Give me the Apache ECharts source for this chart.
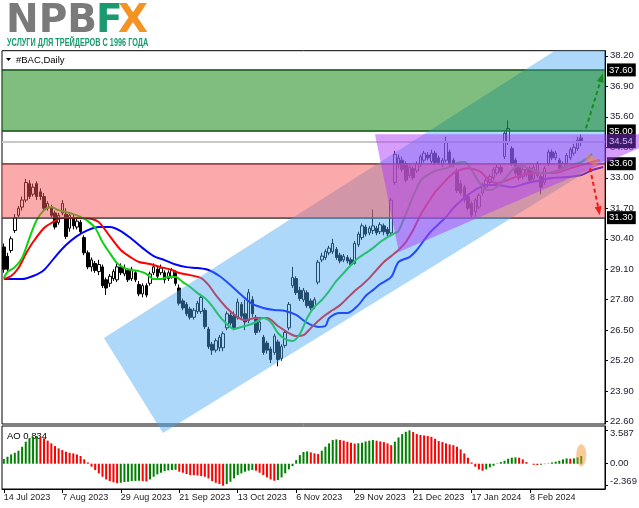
<!DOCTYPE html>
<html><head><meta charset="utf-8">
<script src="https://cdn.jsdelivr.net/npm/echarts@6/dist/echarts.min.js"></script>
<style>html,body{margin:0;padding:0;background:#fff}#c{width:639px;height:508px}</style>
</head><body><div id="c"></div>
<script>
const FONT = 'Liberation Sans';
const tradingDays = [
 ['2023-07', [14,17,18,19,20,21,24,25,26,27,28,31]],
 ['2023-08', [1,2,3,4,7,8,9,10,11,14,15,16,17,18,21,22,23,24,25,28,29,30,31]],
 ['2023-09', [1,5,6,7,8,11,12,13,14,15,18,19,20,21,22,25,26,27,28,29]],
 ['2023-10', [2,3,4,5,6,9,10,11,12,13,16,17,18,19,20,23,24,25,26,27,30,31]],
 ['2023-11', [1,2,3,6,7,8,9,10,13,14,15,16,17,20,21,22,24,27,28,29,30]],
 ['2023-12', [1,4,5,6,7,8,11,12,13,14,15,18,19,20,21,22,26,27,28,29]],
 ['2024-01', [2,3,4,5,8,9,10,11,12,16,17,18,19,22,23,24,25,26,29,30,31]],
 ['2024-02', [1,2,5,6,7,8,9,12,13,14,15,16,20,21,22,23,26,27,28,29]],
 ['2024-03', [1,4,5,6,7,8]]
];
const monthNames = ['Jan','Feb','Mar','Apr','May','Jun','Jul','Aug','Sep','Oct','Nov','Dec'];
const labelEvery = 16, lastLabelIndex = 144;

// [open, close, low, high]
const candles = [
[30.05,29.10,28.95,30.20],[29.65,29.10,28.95,29.80],[29.90,30.40,29.80,30.50],[30.75,31.30,30.65,31.45],[31.40,31.70,31.30,31.80],
[31.75,32.05,31.60,32.20],[32.05,32.80,31.95,32.95],[32.75,32.20,32.10,32.90],[32.30,32.60,32.20,32.75],[32.75,32.20,32.05,32.85],
[32.40,32.20,32.05,32.55],[32.20,31.70,31.60,32.35],[31.70,31.90,31.60,32.00],[31.75,31.40,31.30,31.85],[31.50,30.90,30.80,31.60],
[31.10,31.40,31.00,31.50],[31.50,31.90,31.40,32.05],[31.45,30.50,30.40,31.70],[30.85,31.40,30.70,31.50],[31.30,30.95,30.80,31.45],
[30.90,31.15,30.80,31.30],[31.10,30.70,30.60,31.20],[30.45,29.80,29.70,30.55],[29.80,29.20,29.10,29.90],[29.20,29.50,29.00,29.60],
[29.35,29.05,28.95,29.45],[29.00,29.30,28.85,29.50],[29.20,28.40,28.30,29.30],[28.65,28.30,28.00,28.75],[28.50,28.80,28.35,28.90],
[28.70,29.00,28.60,29.10],[28.65,29.20,28.55,29.35],[29.20,28.95,28.85,29.35],[28.90,29.15,28.80,29.30],[29.05,28.65,28.55,29.15],
[28.70,29.10,28.60,29.20],[28.95,28.65,28.55,29.05],[28.45,28.05,27.95,28.60],[28.05,28.40,27.90,28.50],[28.40,28.00,27.90,28.50],
[28.50,28.90,28.40,29.00],[28.95,29.20,28.85,29.35],[29.10,28.80,28.70,29.20],[28.95,29.15,28.85,29.30],[28.95,28.65,28.50,29.05],
[28.70,28.95,28.60,29.05],[28.80,29.05,28.70,29.15],[28.95,28.50,28.40,29.05],[28.30,27.65,27.55,28.45],[27.75,27.45,27.35,27.85],
[27.60,27.20,27.10,27.70],[27.40,27.05,26.95,27.50],[27.05,27.35,26.95,27.45],[27.30,27.65,27.20,27.75],[27.30,27.90,27.20,28.05],
[27.35,26.65,26.55,27.45],[26.55,25.80,25.70,26.65],[25.90,25.65,25.45,26.00],[25.65,26.05,25.55,26.15],[25.75,26.20,25.60,26.30],
[25.75,26.35,25.60,26.45],[26.60,27.20,26.50,27.30],[27.15,26.80,26.70,27.30],[27.10,26.60,26.50,27.30],[27.05,27.70,26.95,27.85],
[27.60,27.10,27.00,27.70],[27.20,26.85,26.50,27.80],[26.90,28.10,26.80,28.25],[27.80,27.20,27.05,27.95],[27.05,26.40,26.30,27.15],
[26.50,26.85,26.40,26.95],[26.20,25.55,25.45,26.30],[25.95,25.65,25.50,26.05],[25.70,25.25,25.10,25.80],[25.55,26.25,25.45,26.35],
[26.00,25.25,24.96,26.10],[25.30,25.80,25.20,25.90],[25.85,26.40,25.75,26.50],[26.60,27.60,26.50,27.70],[28.40,28.75,28.30,29.20],
[28.70,28.10,28.00,28.80],[28.20,27.85,27.75,28.35],[27.80,28.20,27.70,28.30],[28.10,27.55,27.45,28.20],[27.75,27.45,27.35,27.85],
[27.50,27.80,27.40,27.90],[28.55,29.40,28.45,29.50],[29.50,29.66,29.40,29.80],[29.60,29.85,29.50,29.95],[29.80,30.00,29.70,30.10],
[29.85,30.20,29.75,30.40],[29.95,29.60,29.50,30.05],[29.70,29.45,29.35,29.80],[29.50,29.65,29.40,29.75],[29.60,29.45,29.35,29.70],
[29.50,29.30,29.20,29.60],[29.35,30.20,29.30,30.30],[30.15,30.60,30.05,30.70],[30.45,30.95,30.35,31.05],[30.90,30.60,30.50,31.00],
[30.65,30.85,30.55,30.95],[30.75,30.95,30.60,31.65],[30.85,30.65,30.55,30.95],[30.70,31.00,30.60,31.10],[30.95,30.70,30.55,31.05],
[30.80,30.60,30.45,30.90],[30.65,32.05,30.55,32.15],[32.80,34.00,32.70,34.15],[33.55,33.85,33.40,34.00],[33.75,33.35,33.25,33.90],
[33.60,32.90,32.80,33.70],[33.10,33.45,33.00,33.55],[33.40,33.00,32.90,33.50],[33.30,33.60,33.20,33.70],[33.55,33.90,33.45,34.00],
[33.75,34.05,33.65,34.15],[33.97,33.85,33.75,34.10],[33.70,34.05,33.60,34.20],[34.05,33.65,33.55,34.15],[33.85,33.65,33.55,33.95],
[33.55,33.75,33.45,33.85],[33.75,34.50,33.65,34.75],[34.10,33.60,33.50,34.20],[33.75,33.55,33.45,33.85],[33.30,32.45,32.35,33.40],
[32.75,32.35,32.25,32.90],[32.60,32.05,31.95,32.70],[32.20,31.70,31.60,32.30],[31.90,31.40,31.30,32.00],[31.55,32.05,31.35,32.15],
[31.75,32.25,31.65,32.35],[32.35,32.70,32.25,32.80],[32.60,32.90,32.50,33.00],[32.80,33.05,32.70,33.15],[33.00,33.35,32.90,33.45],
[33.20,33.45,33.10,33.55],[33.45,33.25,33.15,33.55],[33.90,34.90,33.80,35.00],[34.50,35.10,34.40,35.45],[34.25,33.60,33.50,34.35],
[33.75,33.20,33.10,33.85],[33.45,33.00,32.90,33.55],[33.05,33.35,32.95,33.45],[33.15,33.35,33.05,33.45],[33.40,32.90,32.80,33.50],
[32.95,33.45,32.85,33.55],[33.10,33.60,33.00,33.70],[33.05,32.60,32.30,33.15],[32.80,33.40,32.70,33.50],[33.60,34.10,33.50,34.20],
[34.10,33.85,33.75,34.20],[33.85,34.05,33.75,34.15],[33.75,33.40,33.30,33.85],[33.45,33.60,33.35,33.70],[33.60,33.95,33.50,34.05],
[33.85,34.20,33.75,34.30],[34.05,34.30,33.95,34.45],[34.25,34.60,34.15,34.75],[34.70,34.54,34.35,34.85]
];

// Alligator lines: [bar index, price]
const jawLine = [[0,28.68],[5,28.68],[8,28.81],[11,29.07],[14,29.62],[17,30.13],[20,30.51],[23,30.77],[26,30.90],[29,30.90],[32,30.73],[35,30.39],[38,30.00],[41,29.66],[44,29.49],[47,29.30],[50,29.19],[53,29.15],[56,29.07],[59,28.81],[62,28.43],[65,28.00],[68,27.62],[71,27.45],[74,27.36],[77,27.32],[80,27.15],[83,26.81],[86,26.64],[88,26.68],[89,27.02],[92,27.23],[94,27.23],[97,27.57],[99,27.96],[101,28.21],[103,28.47],[106,28.77],[108,29.41],[111,29.62],[113,29.92],[115,30.34],[117,30.73],[119,31.03],[121,31.33],[123,31.71],[125,32.01],[127,32.26],[129,32.48],[132,32.69],[135,32.69],[139,32.60],[143,32.77],[147,32.90],[150,32.99],[154,33.03],[158,33.12],[161,33.33],[164,33.46]];
const teethLine = [[0,28.68],[2,28.81],[4,29.15],[6,29.75],[8,30.26],[11,30.86],[13,31.07],[16,31.28],[20,31.28],[24,31.24],[26,31.11],[29,30.51],[32,29.92],[35,29.58],[37,29.41],[40,29.32],[43,29.19],[46,29.07],[48,28.94],[51,28.85],[54,28.72],[56,28.43],[58,28.00],[61,27.45],[64,27.06],[66,26.93],[69,27.02],[72,27.02],[75,26.68],[78,26.38],[80,26.25],[82,26.29],[84,26.59],[86,26.89],[88,27.15],[90,27.36],[92,27.57],[94,27.87],[96,28.17],[98,28.43],[100,28.72],[102,29.07],[104,29.41],[106,29.66],[108,29.92],[110,30.26],[112,30.77],[114,31.41],[116,31.92],[118,32.39],[120,32.73],[122,33.07],[124,33.29],[127,33.41],[130,33.29],[133,32.90],[135,32.77],[137,32.86],[140,33.03],[143,33.16],[146,33.20],[149,33.20],[152,33.24],[155,33.41],[158,33.54],[161,33.67],[163,33.75]];
const lipsLine = [[0,28.72],[1,28.98],[3,29.19],[5,29.58],[7,30.43],[9,31.20],[11,31.62],[13,31.75],[15,31.62],[17,31.54],[19,31.45],[21,31.33],[23,31.15],[25,30.86],[27,30.26],[29,29.79],[31,29.36],[33,29.15],[35,29.07],[37,29.02],[39,28.90],[41,28.68],[43,28.68],[45,28.77],[47,28.77],[49,28.55],[51,28.34],[53,28.08],[55,27.87],[57,27.53],[59,27.10],[61,26.76],[63,26.55],[65,26.64],[67,26.72],[69,26.85],[71,27.02],[73,26.85],[75,26.38],[77,26.12],[79,26.04],[81,26.34],[83,27.02],[85,27.49],[87,27.79],[89,28.17],[91,28.60],[93,28.94],[95,29.28],[97,29.58],[99,29.79],[101,30.00],[103,30.26],[105,30.47],[107,30.64],[108,30.73],[110,31.45],[112,32.22],[114,32.86],[116,33.12],[118,33.29],[120,33.37],[122,33.46],[124,33.63],[126,33.67],[128,33.33],[130,32.82],[132,32.48],[134,32.52],[136,32.77],[138,33.12],[140,33.46],[142,33.50],[144,33.37],[146,33.24],[148,33.20],[150,33.24],[152,33.33],[154,33.46],[156,33.58],[158,33.67],[160,33.88],[161,34.01]];

const aoValues = [
0.50,0.75,1.00,1.18,1.40,1.83,2.37,2.73,2.90,2.98,
2.90,2.73,2.48,2.19,1.90,1.65,1.47,1.29,1.18,1.11,
1.00,0.83,0.47,0.14,-0.32,-0.68,-1.04,-1.40,-1.69,-1.87,
-2.00,-2.10,-2.05,-1.97,-1.94,-1.87,-1.85,-1.83,-1.87,-1.90,
-1.69,-1.40,-1.15,-0.97,-0.80,-0.72,-0.68,-0.66,-0.86,-0.97,
-1.11,-1.22,-1.24,-1.27,-1.33,-1.40,-1.58,-1.87,-2.05,-2.19,
-2.369,-2.19,-1.94,-1.58,-1.22,-1.04,-0.86,-0.75,-0.68,-0.75,
-0.97,-1.22,-1.47,-1.69,-1.83,-1.76,-1.47,-1.04,-0.61,-0.25,
0.39,0.93,1.26,1.33,1.22,1.11,1.04,1.40,1.83,2.19,
2.55,2.62,2.55,2.48,2.37,2.26,2.17,2.20,2.26,2.40,
2.48,2.55,2.48,2.40,2.33,2.19,2.00,2.37,2.83,3.19,
3.44,3.587,3.41,3.19,3.09,3.05,2.98,2.90,2.69,2.44,
2.33,2.19,2.08,2.00,1.83,1.54,1.11,0.65,0.14,-0.32,
-0.61,-0.75,-0.61,-0.39,-0.22,0.04,0.18,0.32,0.54,0.65,
0.68,0.65,0.47,0.18,0.00,-0.12,-0.15,-0.11,-0.04,0.04,
0.14,0.22,0.32,0.47,0.57,0.54,0.57,0.68,0.834
];

const priceTicks = [22.6,23.9,25.2,26.5,27.8,29.1,30.4,31.7,33.0,34.3,35.6,36.9,38.2];
const aoTicks = [3.587, 0, -2.369];
const aoTickText = ['3.587','0.00','-2.369'];
const levels = [37.6, 35.0, 33.6, 31.3];
const bidPrice = 34.54;
const greenZone = [35.0, 37.6];
const redZone = [31.3, 33.6];
// drawn objects in [bar index, price]
const channel = [[27.4,26.17],[150.8,38.42],[164.5,38.42],[164.5,33.75],[43.55,22.12]];
const triangle = [[101.55,34.86],[174,34.86],[174,34.27],[108.1,29.83]];
const upArrow = [[159.3,35.11],[163.9,37.45]];
const downArrow = [[160.4,33.41],[163.1,31.40]];
const marker = [[159.7,34.06],[163.0,33.75],[161.8,33.49],[159.2,33.75]];
const aoMarker = [158, 0.9];

const categories = [];
tradingDays.forEach(([ym, days]) => { const [y, m] = ym.split('-'); days.forEach(d => categories.push(d + ' ' + monthNames[+m - 1] + ' ' + y)); });

const aoData = aoValues.map((v, i) => ({ value: v, itemStyle: { color: (i === 0 || v > aoValues[i - 1]) ? '#008000' : '#ff0000' } }));
const XMIN = -0.5, XMAX = categories.length - 0.5;

function overlay(name, pts, fill, z) {
  return { type: 'custom', name, xAxisIndex: 1, yAxisIndex: 0, z, silent: true, clip: false, data: [[0, 30]],
    renderItem: (p, api) => ({ type: 'polygon', shape: { points: pts.map(q => api.coord(q)) }, style: { fill } }) };
}
function band(name, lo, hi, fill, z) {
  return overlay(name, [[XMIN, lo], [XMAX, lo], [XMAX, hi], [XMIN, hi]], fill, z);
}
function arrow(name, seg, color) {
  return { type: 'custom', name, xAxisIndex: 1, yAxisIndex: 0, z: 8, silent: true, clip: false, data: [[0, 30]],
    renderItem: (p, api) => {
      const a = api.coord(seg[0]), b = api.coord(seg[1]);
      const ang = Math.atan2(b[1] - a[1], b[0] - a[0]), L = 9, W = 3.5;
      const bx = b[0] - L * Math.cos(ang), by = b[1] - L * Math.sin(ang);
      return { type: 'group', children: [
        { type: 'line', shape: { x1: a[0], y1: a[1], x2: bx, y2: by }, style: { stroke: color, lineWidth: 2, lineDash: [4, 3] } },
        { type: 'polygon', shape: { points: [b, [bx + W * Math.sin(ang), by - W * Math.cos(ang)], [bx - W * Math.sin(ang), by + W * Math.cos(ang)]] }, style: { fill: color } }
      ] };
    } };
}

const lvlLabel = { position: 'end', distance: 2, color: '#fff', backgroundColor: '#000', padding: [2, 3, 1, 2], fontSize: 9.5, fontFamily: FONT, formatter: p => p.value.toFixed(2) };

const chart = echarts.init(document.getElementById('c'), null, { renderer: 'canvas' });
chart.setOption({
  backgroundColor: '#ffffff',
  animation: false,
  grid: [
    { left: 2, right: 34, top: 50.7, height: 373.3, show: true, borderColor: '#000', borderWidth: 1, outerBoundsMode: 'none' },
    { left: 2, right: 34, top: 426, height: 63, show: true, borderColor: '#000', borderWidth: 1, outerBoundsMode: 'none' }
  ],
  xAxis: [
    { type: 'category', gridIndex: 0, data: categories, show: false },
    { type: 'value', gridIndex: 0, min: XMIN, max: XMAX, show: false },
    { type: 'category', gridIndex: 1, data: categories, position: 'bottom',
      axisLine: { show: true, onZero: false, lineStyle: { color: '#000' } },
      axisTick: { show: true, alignWithLabel: true, length: 4, lineStyle: { color: '#000' }, interval: i => i % labelEvery === 0 && i <= lastLabelIndex },
      axisLabel: { interval: i => i % labelEvery === 0 && i <= lastLabelIndex, align: 'left', margin: 4, color: '#222', fontSize: 9, fontFamily: FONT },
      splitLine: { show: false } }
  ],
  yAxis: [
    { type: 'value', gridIndex: 0, position: 'right', min: 22.50, max: 38.42, scale: true,
      axisLine: { show: true, onZero: false, lineStyle: { color: '#000' } },
      axisTick: { show: true, length: 3, customValues: priceTicks, lineStyle: { color: '#000' } },
      axisLabel: { customValues: priceTicks, formatter: v => v.toFixed(2), color: '#1a1a2a', fontSize: 9.5, fontFamily: FONT, margin: 5 },
      splitLine: { show: false } },
    { type: 'value', gridIndex: 1, position: 'right', min: -2.72, max: 4.06,
      axisLine: { show: true, onZero: false, lineStyle: { color: '#000' } },
      axisTick: { show: true, length: 3, customValues: aoTicks, lineStyle: { color: '#000' } },
      axisLabel: { customValues: aoTicks, color: '#1a1a2a', fontSize: 9.5, fontFamily: FONT, margin: 5,
        formatter: (v) => { const i = aoTicks.indexOf(v); const t = aoTickText[i]; return i === 0 ? '{t|' + t + '}' : (i === 2 ? '{b|' + t + '}' : t); },
        rich: { t: { padding: [6, 0, 0, 0], fontSize: 9.5, fontFamily: FONT, color: '#1a1a2a' }, b: { padding: [0, 0, 8, 0], fontSize: 9.5, fontFamily: FONT, color: '#1a1a2a' } } },
      splitLine: { show: false } }
  ],
  series: [
    { type: 'candlestick', name: 'BAC', xAxisIndex: 0, yAxisIndex: 0, data: candles, barWidth: 3, z: 2,
      itemStyle: { color: '#ffffff', color0: '#000000', borderColor: '#000000', borderColor0: '#000000', borderWidth: 1 },
      markLine: { silent: true, symbol: 'none', animation: false,
        data: levels.map(v => ({ yAxis: v, lineStyle: { color: '#2a2a2a', width: 1.5, type: 'solid' }, label: lvlLabel }))
          .concat([{ yAxis: bidPrice, lineStyle: { color: '#c8c8c8', width: 2, type: 'solid' }, label: { show: false } }]) } },
    { type: 'line', name: 'Jaw', xAxisIndex: 1, yAxisIndex: 0, data: jawLine, showSymbol: false, smooth: 0.3, z: 3, lineStyle: { color: '#0000ff', width: 2 } },
    { type: 'line', name: 'Teeth', xAxisIndex: 1, yAxisIndex: 0, data: teethLine, showSymbol: false, smooth: 0.3, z: 3, lineStyle: { color: '#ff0000', width: 2 } },
    { type: 'line', name: 'Lips', xAxisIndex: 1, yAxisIndex: 0, data: lipsLine, showSymbol: false, smooth: 0.3, z: 3, lineStyle: { color: '#10d010', width: 2 } },
    overlay('Channel', channel, 'rgba(73,168,244,0.45)', 5),
    band('Target zone', greenZone[0], greenZone[1], 'rgba(1,125,1,0.5)', 6),
    band('Stop zone', redZone[0], redZone[1], 'rgba(245,85,85,0.5)', 6),
    overlay('Triangle', triangle, 'rgba(175,60,245,0.5)', 7),
    overlay('Marker', marker, 'rgba(245,140,60,0.5)', 7),
    arrow('Up', upArrow, '#1e8a1e'),
    arrow('Down', downArrow, '#ee1c1c'),
    { type: 'custom', name: 'Bid label', xAxisIndex: 1, yAxisIndex: 0, z: 9, silent: true, clip: false, data: [[XMAX, bidPrice]],
      renderItem: (p, api) => { const c = api.coord([api.value(0), api.value(1)]);
        return { type: 'text', x: c[0] + 2, y: c[1], style: { text: bidPrice.toFixed(2), fill: '#d2b8f8', backgroundColor: '#3e1a6a', padding: [2, 3, 1, 2], fontSize: 9.5, fontFamily: FONT, verticalAlign: 'middle', align: 'left' } }; } },
    { type: 'bar', name: 'AO', xAxisIndex: 2, yAxisIndex: 1, data: aoData, barWidth: 2, z: 2 },
    { type: 'custom', name: 'AO marker', xAxisIndex: 2, yAxisIndex: 1, z: 5, silent: true, clip: false, data: [aoMarker],
      renderItem: (p, api) => { const c = api.coord([api.value(0), api.value(1)]); return { type: 'ellipse', shape: { cx: c[0], cy: c[1], rx: 5, ry: 11 }, style: { fill: 'rgba(245,150,50,0.5)' } }; } }
  ],
  graphic: [
    { type: 'text', left: 6, top: 2, style: { text: 'NPB', font: 'bold 39px "DejaVu Sans"', fill: '#7a7a7a' } },
    { type: 'text', left: 96, top: 2, style: { text: 'F', font: 'bold 39px "DejaVu Sans"', fill: '#1a9a6e' } },
    { type: 'text', left: 118, top: 2, style: { text: 'X', font: 'bold 39px "DejaVu Sans"', fill: '#f39323' } },
    { type: 'text', x: 7, y: 38.5, scaleX: 0.73, style: { text: 'УСЛУГИ ДЛЯ ТРЕЙДЕРОВ С 1996 ГОДА', font: 'bold 10px "Liberation Sans"', fill: '#159a6c' } },
    { type: 'polygon', shape: { points: [[6, 58], [11, 58], [8.5, 61]] }, style: { fill: '#000' } },
    { type: 'text', x: 16, y: 55, style: { text: '#BAC,Daily', font: '9.5px "Liberation Sans"', fill: '#000' } },
    { type: 'text', x: 7, y: 431, style: { text: 'AO 0.834', font: '9.5px "Liberation Sans"', fill: '#000' } }
  ]
});
</script></body></html>
